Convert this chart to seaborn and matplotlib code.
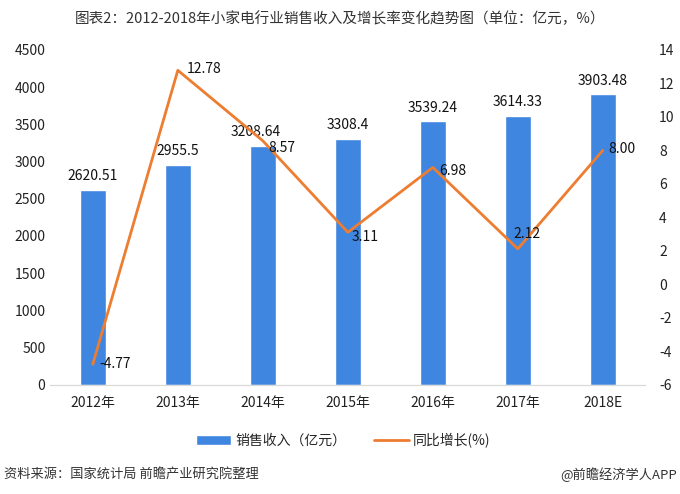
import numpy as np
import pandas as pd
import matplotlib
matplotlib.use('Agg')
import matplotlib.pyplot as plt
import seaborn as sns

sns.set_style('white')
plt.rcParams['font.family'] = ['Noto Sans CJK SC', 'DejaVu Sans']
plt.rcParams['axes.unicode_minus'] = False

# 数据
years = ['2012年', '2013年', '2014年', '2015年', '2016年', '2017年', '2018E']
sales = [2620.51, 2955.5, 3208.64, 3308.4, 3539.24, 3614.33, 3903.48]
growth = [-4.77, 12.78, 8.57, 3.11, 6.98, 2.12, 8.00]
sales_labels = ['2620.51', '2955.5', '3208.64', '3308.4', '3539.24', '3614.33', '3903.48']
growth_labels = ['-4.77', '12.78', '8.57', '3.11', '6.98', '2.12', '8.00']

df = pd.DataFrame({'year': years, 'sales': sales, 'growth': growth})
df['pos'] = np.arange(len(df))

bar_color = '#3F86E0'
line_color = '#ED7D31'

fig = plt.figure(figsize=(6.8, 4.94), dpi=100)
ax = fig.add_axes([0.074, 0.221, 0.875, 0.678])

sns.barplot(data=df, x='year', y='sales', color=bar_color, width=0.3,
            saturation=1, ax=ax, label='销售收入（亿元）')
ax.set_ylim(0, 4500)
ax.set_yticks(range(0, 4501, 500))
ax.set_xlim(-0.5, len(df) - 0.5)
ax.set_xlabel('')
ax.set_ylabel('')
ax.tick_params(axis='both', length=0, labelsize=10, colors='#222222')
ax.tick_params(axis='x', pad=8)

# 柱子标签（2014年稍向左）
bar_dx = [0, 0, -0.08, 0, 0, 0, 0]
for i, v in enumerate(sales):
    ax.text(i + bar_dx[i], v + 90, sales_labels[i], ha='center', va='bottom',
            fontsize=10, color='#111111')

ax2 = ax.twinx()
sns.lineplot(data=df, x='pos', y='growth', color=line_color, linewidth=2,
             ax=ax2, label='同比增长(%)')
ax2.set_ylim(-6, 14)
ax2.set_yticks(range(-6, 15, 2))
ax2.set_ylabel('')
ax2.set_xlabel('')
ax2.tick_params(axis='y', length=0, labelsize=10, colors='#222222', pad=10)

# 增长率标签位置偏移
offs = [(0.08, 0.0), (0.1, 0.1), (0.07, -0.4), (0.05, -0.3), (0.08, -0.2), (-0.05, 0.9), (0.06, 0.1)]
for i, v in enumerate(growth):
    dx, dy = offs[i]
    ax2.text(i + dx, v + dy, growth_labels[i], ha='left', va='center', fontsize=10, color='#111111')

for a in (ax, ax2):
    for s in ['top', 'left', 'right']:
        a.spines[s].set_visible(False)
    a.spines['bottom'].set_color('#D9D9D9')

# 图例
h1, l1 = ax.get_legend_handles_labels()
h2, l2 = ax2.get_legend_handles_labels()
ax2.get_legend().remove()
if ax.get_legend() is not None:
    ax.get_legend().remove()
fig.legend(h1 + h2, l1 + l2, loc='center', bbox_to_anchor=(0.505, 0.108), ncol=2,
           frameon=False, fontsize=10, handlelength=2.5, handletextpad=0.3, columnspacing=2)

fig.text(0.5, 0.962, '图表2：2012-2018年小家电行业销售收入及增长率变化趋势图（单位：亿元，%）',
         ha='center', va='center', fontsize=10.5, color='#333333')
fig.text(0.006, 0.04, '资料来源：国家统计局 前瞻产业研究院整理', ha='left', va='center',
         fontsize=9.5, color='#333333', style='italic')
fig.text(0.995, 0.04, '@前瞻经济学人APP', ha='right', va='center', fontsize=9.5, color='#333333')

fig.savefig('out.png', dpi=100)
